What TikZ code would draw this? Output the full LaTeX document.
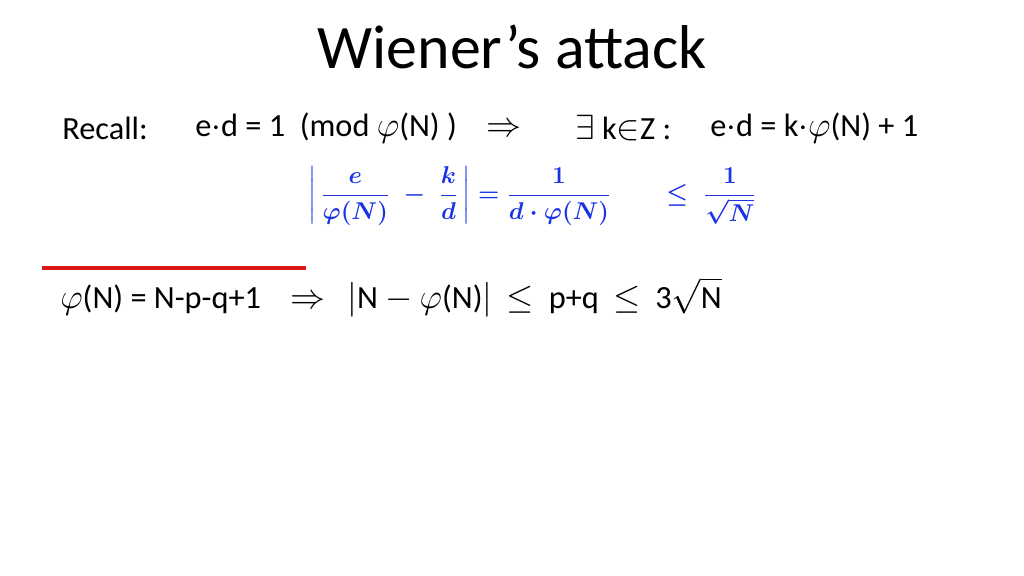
\documentclass[tikz,border=0pt]{standalone}
\usepackage{amssymb}
\usepackage{amsmath}
\usepackage{fontspec}
\setmainfont{Carlito}
\usetikzlibrary{positioning}
\definecolor{penblue}{rgb}{0.1,0.2,0.9}
\definecolor{penred}{rgb}{0.85,0.1,0.1}
\tikzset{
  slide/.style={anchor=west,inner sep=0pt,font=\fontsize{23}{28}\selectfont},
  hand/.style={anchor=west,inner sep=0pt,penblue,font=\fontsize{17}{20}\selectfont}
}
\begin{document}
\begin{tikzpicture}[x=0.025cm,y=-0.025cm]
		\useasboundingbox (0,0) rectangle (1024,576);
		\node(title) [inner sep=0pt,font=\fontsize{44}{52}\selectfont] at (512,47) {Wiener’s attack};
		
		%----------------------------------------------------------------
		\node(recall) [slide] at (62,128) {Recall:};
		\node(congr) [slide] at (195,128) {e$\cdot$d = 1\ \ (mod $\varphi$(N) )\ \ \ \ $\Rightarrow$};
		\node(exists) [slide] at (575,128) {$\exists$ k$\in$Z :};
		\node(keq) [slide] at (710,128) {e$\cdot$d = k$\cdot\varphi$(N) + 1};
		
		%----------------------------------------------------------------
		\node(approx) [hand] at (308,196) {$\boldsymbol{\left|\,\dfrac{e}{\varphi(N)}\;-\;\dfrac{k}{d}\,\right| = \dfrac{1}{d\cdot\varphi(N)}\qquad\leq\;\dfrac{1}{\sqrt{N}}}$};
		
		%----------------------------------------------------------------
		\coordinate (ul) at (42,268);
		\coordinate (ur) at (306,268);
		\draw [penred,line width=0.8mm] (ul) -- (ur);
		
		\node(phi) [slide] at (60,297) {$\varphi$(N) = N-p-q+1\ \ \ \ $\Rightarrow$\ \ \ $|$N $-$ $\varphi$(N)$|$\ \ $\leq$\ \ p+q\ \ $\leq$\ \ 3$\sqrt{\text{N}}$};
	\end{tikzpicture}
\end{document}
